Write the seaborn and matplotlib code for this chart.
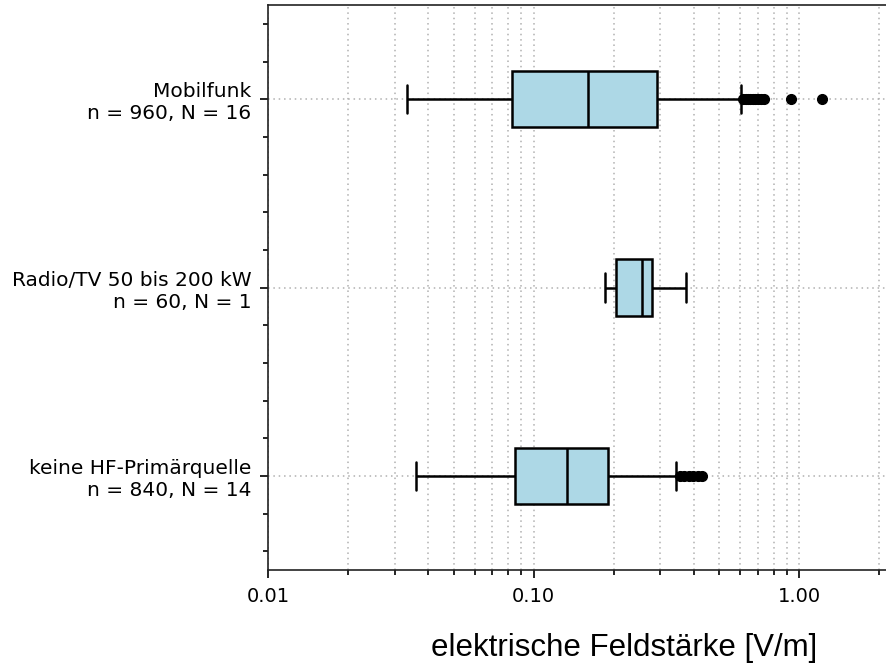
import numpy as np
import pandas as pd
import matplotlib
matplotlib.use("Agg")
import matplotlib.pyplot as plt
from matplotlib.ticker import FixedLocator, FormatStrFormatter, LogLocator, NullFormatter, MultipleLocator
import seaborn as sns

# Groups (top to bottom)
categories = [
    "Mobilfunk\nn = 960, N = 16",
    "Radio/TV 50 bis 200 kW\nn = 60, N = 1",
    "keine HF-Primärquelle\nn = 840, N = 14",
]

# Box statistics per group [V/m]
whisker_low = [0.0334, 0.1850, 0.0362]
quartile_1 = [0.0829, 0.2035, 0.0848]
median = [0.1606, 0.2565, 0.1334]
quartile_3 = [0.2921, 0.2798, 0.1904]
whisker_high = [0.601, 0.3734, 0.3444]
outliers = [
    [0.615, 0.628, 0.641, 0.655, 0.668, 0.684, 0.699, 0.716, 0.734, 0.927, 1.22],
    [],
    [0.356, 0.369, 0.384, 0.398, 0.414, 0.429],
]

x_ticks = [0.01, 0.1, 1.0]

# Build a sample per group whose quartiles, whisker ends and outliers
# reproduce the statistics above (boxplot stats are computed linearly).
rows = []
block = 20
for i, cat in enumerate(categories):
    vals = ([whisker_low[i]] + [quartile_1[i]] * block + [median[i]] * block
            + [quartile_3[i]] * block + [whisker_high[i]] + outliers[i])
    rows += [(cat, v) for v in vals]
df = pd.DataFrame(rows, columns=["group", "value"])

sns.set_style("ticks")
plt.rcParams["font.family"] = ["DejaVu Sans"]
plt.rcParams["text.color"] = "black"
plt.rcParams["xtick.color"] = "black"
plt.rcParams["ytick.color"] = "black"

fig = plt.figure(figsize=(8.87, 6.66), dpi=100)
ax = fig.add_axes([268 / 887, (666 - 570) / 666, 637 / 887, 565 / 666])

sns.boxplot(
    data=df, x="value", y="group", order=categories, orient="h",
    width=0.3, color="#add8e6", saturation=1, linecolor="black", linewidth=1.8,
    flierprops=dict(marker="o", markerfacecolor="black", markeredgecolor="black",
                    markersize=7),
    ax=ax, zorder=3,
)

ax.set_xscale("log")
ax.set_xlim(0.01, 2.5)
ax.set_ylim(2.5, -0.5)

ax.xaxis.set_major_locator(FixedLocator(x_ticks))
ax.xaxis.set_major_formatter(FormatStrFormatter("%.2f"))
ax.xaxis.set_minor_locator(LogLocator(base=10, subs=np.arange(2, 10)))
ax.xaxis.set_minor_formatter(NullFormatter())
ax.yaxis.set_minor_locator(MultipleLocator(0.2))

ax.grid(axis="x", which="both", linestyle=(0, (1, 2.5)), color="#b0b0b0", linewidth=1.1, zorder=0)
ax.grid(axis="y", which="major", linestyle=(0, (1, 2.5)), color="#b0b0b0", linewidth=1.1, zorder=0)
ax.set_axisbelow(True)

ax.tick_params(axis="both", which="major", length=6, width=1.2, labelsize=14, pad=6,
               color="black", labelcolor="black")
ax.tick_params(axis="y", which="major", labelsize=14.5)
ax.tick_params(axis="both", which="minor", length=3.5, width=1.2, color="black")
for side in ["left", "bottom", "top", "right"]:
    ax.spines[side].set_visible(True)
    ax.spines[side].set_color("#222222")
    ax.spines[side].set_linewidth(1.2)

ax.set_xlabel("")
ax.set_ylabel("")
fig.text(624 / 887, 1 - 648 / 666, "elektrische Feldstärke [V/m]",
         ha="center", va="center", fontsize=22.5, family="Liberation Sans",
         color="black")

fig.savefig("out.png", dpi=100)
